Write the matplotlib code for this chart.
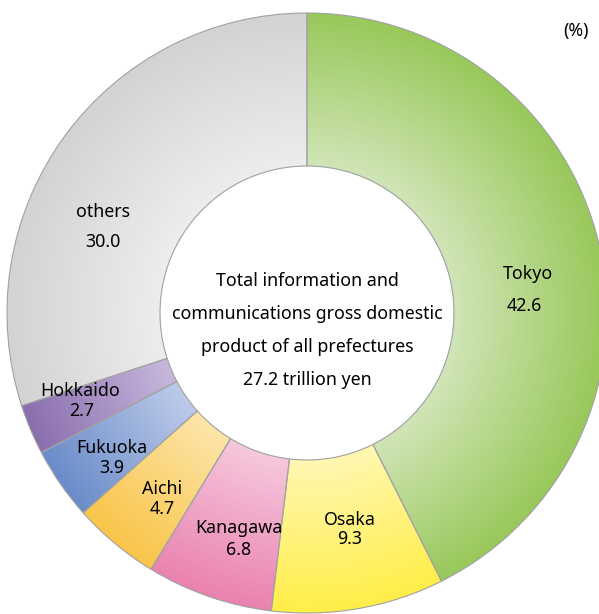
import numpy as np
import matplotlib
matplotlib.use("Agg")
import matplotlib.pyplot as plt
from matplotlib.colors import LinearSegmentedColormap

# Share of information & communications GDP by prefecture (%)
regions = ["Tokyo", "Osaka", "Kanagawa", "Aichi", "Fukuoka", "Hokkaido", "others"]
shares = [42.6, 9.3, 6.8, 4.7, 3.9, 2.7, 30.0]
value_labels = ["42.6", "9.3", "6.8", "4.7", "3.9", "2.7", "30.0"]

# gradient colours: (inner edge, outer edge)
inner_colors = ["#d0e5b7", "#fff7b2", "#f6c8dd", "#fde5aa", "#bdcbe9", "#c7b8dc", "#ededed"]
outer_colors = ["#99c85a", "#ffee48", "#ea82b0", "#f9c54a", "#6a8cc9", "#8a6eae", "#d3d3d3"]

center_lines = ["Total information and",
                "communications gross domestic",
                "product of all prefectures",
                "27.2 trillion yen"]

W, H = 599, 614
CX, CY, R = 307, 313, 300          # donut centre / radius in pixels
HOLE = 0.49                         # inner radius as fraction of outer
FONT = ["Noto Sans", "DejaVu Sans"]
FS = 12.8

fig = plt.figure(figsize=(W / 100, H / 100), dpi=100)
ax = fig.add_axes([0, 0, 1, 1])

wedges, _ = ax.pie(shares, startangle=90, counterclock=False, radius=1.0,
                   wedgeprops=dict(width=1 - HOLE, linewidth=0))
outline, _ = ax.pie(shares, startangle=90, counterclock=False, radius=1.0,
                    wedgeprops=dict(width=1 - HOLE, facecolor="none",
                                    edgecolor="#a3a3a3", linewidth=0.8))
for w in outline:
    w.set_zorder(5)

# radial gradient for each ring segment
n = 600
g = np.linspace(-1, 1, n)
gx, gy = np.meshgrid(g, g)
rad = np.clip((np.hypot(gx, gy) - HOLE) / (1 - HOLE), 0, 1)
for w, c0, c1 in zip(wedges, inner_colors, outer_colors):
    cmap = LinearSegmentedColormap.from_list("seg", [c0, c1])
    im = ax.imshow(rad, cmap=cmap, vmin=0, vmax=1, extent=(-1, 1, -1, 1),
                   origin="lower", interpolation="bilinear", zorder=2)
    im.set_clip_path(w)

ax.set_xlim(-CX / R, (W - CX) / R)
ax.set_ylim(-(H - CY) / R, CY / R)
ax.set_aspect("auto")
ax.axis("off")


def px(x, y):
    return (x - CX) / R, (CY - y) / R


# segment labels: (name pos, value pos) in pixels
label_pos = {
    "Tokyo": ((528, 274), (524, 306)),
    "Osaka": ((350, 520), (350, 539)),
    "Kanagawa": ((239, 528), (239, 550)),
    "Aichi": ((162, 489), (162, 509)),
    "Fukuoka": ((112, 448), (112, 468)),
    "Hokkaido": ((80, 391), (82, 411)),
    "others": ((103, 212), (103, 242)),
}
for name, val in zip(regions, value_labels):
    (x1, y1), (x2, y2) = label_pos[name]
    ax.text(*px(x1, y1), name, ha="center", va="center", fontsize=FS,
            family=FONT, color="black", zorder=6)
    ax.text(*px(x2, y2), val, ha="center", va="center", fontsize=FS,
            family=FONT, color="black", zorder=6)

for i, line in enumerate(center_lines):
    ax.text(*px(307, 281 + i * 33), line, ha="center", va="center",
            fontsize=FS, family=FONT, color="black", zorder=6)

ax.text(*px(576, 31), "(%)", ha="center", va="center", fontsize=FS,
        family=FONT, color="black", zorder=6)

fig.savefig("out.png", dpi=100, facecolor="white")
